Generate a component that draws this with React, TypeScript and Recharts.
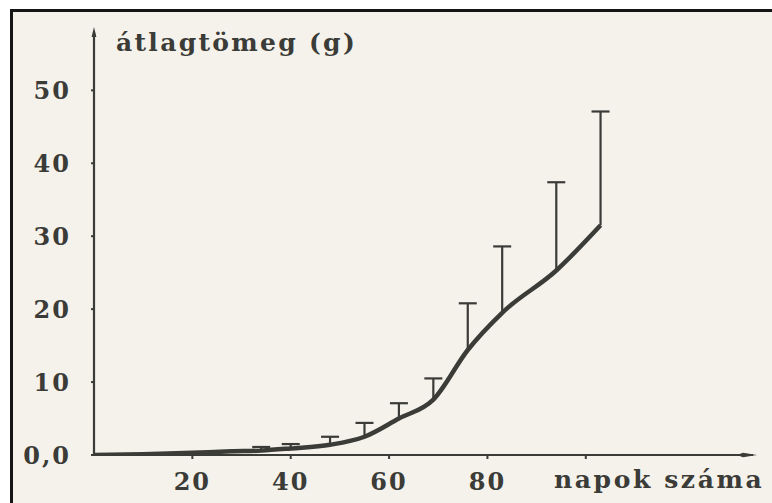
import React from "react";
import { LineChart, Line, XAxis, YAxis, ErrorBar } from "recharts";

// growth curve: day, mean weight (g) and the top of the spread bar
const BAR_DAYS = [34, 40, 48, 55, 62, 69, 76, 83, 94, 103];
const BAR_MEAN = [0.6, 0.9, 1.4, 2.5, 5.0, 7.6, 14.4, 19.5, 25.3, 31.5];
const BAR_UPPER = [1.1, 1.5, 2.5, 4.4, 7.1, 10.5, 20.8, 28.6, 37.4, 47.1];

// early part of the curve, before the first measured bar
const EARLY_DAYS = [0, 10, 20, 28];
const EARLY_MEAN = [0, 0.1, 0.3, 0.5];

const X_TICKS = [20, 40, 60, 80, 100];
const Y_TICKS = [0, 10, 20, 30, 40, 50];

const INK = "#3b3b37";
const PAPER = "#f4f2eb";
const FONT = "'DejaVu Serif', serif";

const bars = BAR_DAYS.map((day, i) => ({
    day,
    mean: BAR_MEAN[i],
    upper: BAR_UPPER[i],
    spread: [0, +(BAR_UPPER[i] - BAR_MEAN[i]).toFixed(2)],
}));

const curve = [
    ...EARLY_DAYS.map((day, i) => ({ day, mean: EARLY_MEAN[i] })),
    ...BAR_DAYS.map((day, i) => ({ day, mean: BAR_MEAN[i] })),
];

const tickStyle = { fill: INK, fontFamily: FONT, fontWeight: 700, fontSize: 24, letterSpacing: 2 };

const titleStyle: React.CSSProperties = {
    position: "absolute",
    color: INK,
    fontFamily: FONT,
    fontWeight: 700,
    fontSize: 25,
    whiteSpace: "nowrap",
};

function Cap(props: any) {
    const { cx, cy, index } = props;
    if (cx == null || cy == null) return <g key={`cap-${index}`} />;
    return <line key={`cap-${index}`} x1={cx - 9} x2={cx + 9} y1={cy} y2={cy} stroke={INK} strokeWidth={2.2} />;
}

export default function App() {
    return (
        <div style={{ position: "absolute", left: 0, top: 0, width: 772, height: 503, background: "#fff", overflow: "hidden" }}>
            <svg width={0} height={0} style={{ position: "absolute" }}>
                <defs>
                    <marker id="arrowX" viewBox="0 0 20 6" refX={16} refY={3} markerWidth={20} markerHeight={6} markerUnits="userSpaceOnUse" orient="auto">
                        <path d="M0,3 L6,0.8 L20,3 L6,5.2 Z" fill={INK} />
                    </marker>
                    <marker id="arrowY" viewBox="0 0 10 6" refX={5} refY={3} markerWidth={10} markerHeight={6} markerUnits="userSpaceOnUse" orient="auto-start-reverse">
                        <path d="M0,0.6 L10,3 L0,5.4 Z" fill={INK} />
                    </marker>
                </defs>
            </svg>
            <div
                style={{
                    position: "absolute",
                    left: 10,
                    top: 9,
                    width: 772,
                    height: 503,
                    borderLeft: "3px solid #151515",
                    borderTop: "3px solid #151515",
                    background: PAPER,
                }}
            />
            <div style={{ position: "absolute", left: 0, top: 0 }}>
                <LineChart width={772} height={503} margin={{ top: 32, right: 19, bottom: 0, left: 10 }}>
                    <XAxis
                        type="number"
                        dataKey="day"
                        domain={[0, 134]}
                        ticks={X_TICKS}
                        tickFormatter={(v) => (v === 100 ? "" : String(v))}
                        height={48}
                        tickSize={4}
                        tickMargin={14}
                        tick={tickStyle}
                        tickLine={{ stroke: INK, strokeWidth: 2 }}
                        axisLine={{ stroke: INK, strokeWidth: 2.2, markerEnd: "url(#arrowX)" }}
                        allowDataOverflow
                    />
                    <YAxis
                        type="number"
                        domain={[0, 58]}
                        ticks={Y_TICKS}
                        tickFormatter={(v) => (v === 0 ? "0,0" : String(v))}
                        width={84}
                        tickSize={3}
                        tickMargin={20}
                        tick={tickStyle}
                        tickLine={{ stroke: INK, strokeWidth: 2 }}
                        axisLine={{ stroke: INK, strokeWidth: 2.2, markerStart: "url(#arrowY)" }}
                        allowDataOverflow
                    />
                    <Line
                        data={curve}
                        dataKey="mean"
                        type="monotone"
                        stroke={INK}
                        strokeWidth={4.5}
                        strokeLinejoin="round"
                        dot={false}
                        isAnimationActive={false}
                    />
                    <Line data={bars} dataKey="mean" stroke="none" dot={false} isAnimationActive={false}>
                        <ErrorBar dataKey="spread" direction="y" width={0} stroke={INK} strokeWidth={2.2} isAnimationActive={false} />
                    </Line>
                    <Line data={bars} dataKey="upper" stroke="none" dot={Cap} activeDot={false} isAnimationActive={false} />
                </LineChart>
            </div>
            <div style={{ ...titleStyle, left: 116, top: 28, letterSpacing: 2.3 }}>átlagtömeg (g)</div>
            <div style={{ ...titleStyle, left: 554, top: 465, letterSpacing: 2.6 }}>napok száma</div>
        </div>
    );
}
